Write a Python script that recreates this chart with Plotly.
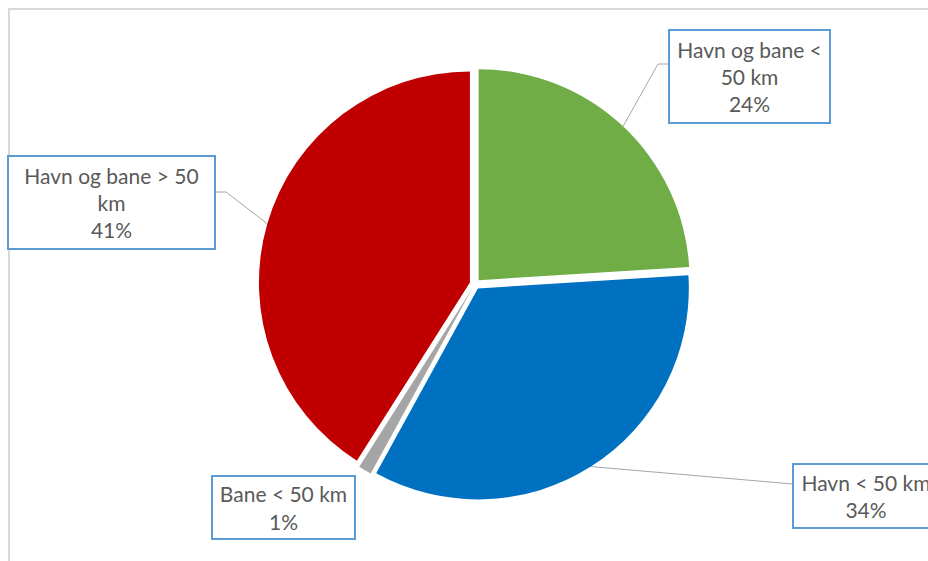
import math
import plotly.graph_objects as go

# Share of transport by mode and distance
categories = ["Havn og bane < 50 km", "Havn < 50 km", "Bane < 50 km", "Havn og bane > 50 km"]
shares = [24, 34, 1, 41]
label_lines = [
    "Havn og bane <<br>50 km",
    "Havn < 50 km",
    "Bane < 50 km",
    "Havn og bane > 50<br>km",
]
colors = ["#70AD47", "#0070C0", "#A5A5A5", "#C00000"]

W, H = 928, 561
CX, CY, R = 475, 284, 211          # pie centre and radius in pixels
PULL = 0.025                       # explode fraction

# label boxes: (x0, y0, x1, y1) in pixels, leader elbow point or None
boxes = [
    ((669, 30, 830, 123), (658, 64), (669, 64)),
    ((793, 464, 939, 528), None, (793, 484)),
    ((212, 476, 355, 539), None, None),
    ((8, 156, 215, 249), (226, 192), (215, 192)),
]

side = 2 * R * (1 + PULL)
dom_x = [(CX - side / 2) / W, (CX + side / 2) / W]
dom_y = [(H - CY - side / 2) / H, (H - CY + side / 2) / H]

fig = go.Figure()
fig.add_trace(go.Pie(
    labels=categories,
    values=shares,
    sort=False,
    direction="clockwise",
    rotation=0,
    pull=[PULL] * len(shares),
    marker=dict(colors=colors, line=dict(width=0)),
    textinfo="none",
    hoverinfo="skip",
    showlegend=False,
    domain=dict(x=dom_x, y=dom_y),
))

total = sum(shares)
start = 0.0
shapes = [dict(type="rect", xref="x", yref="y", x0=9, y0=9, x1=W + 20, y1=H + 20,
               line=dict(color="#D9D9D9", width=2), fillcolor="rgba(0,0,0,0)", layer="below")]
annotations = []
for i, v in enumerate(shares):
    frac = v / total
    mid = (start + frac / 2) * 2 * math.pi
    start += frac
    dx, dy = math.sin(mid), -math.cos(mid)
    ox, oy = CX + PULL * R * dx, CY + PULL * R * dy
    tip = (ox + R * dx, oy + R * dy)
    (x0, y0, x1, y1), elbow, end = boxes[i]
    if end is not None:
        pts = [tip] + ([elbow] if elbow else []) + [end]
        path = "M " + " L ".join(f"{px:.1f},{py:.1f}" for px, py in pts)
        shapes.append(dict(type="path", xref="x", yref="y", path=path,
                           line=dict(color="#A6A6A6", width=1), layer="above"))
    pct = f"{round(100 * frac)}%"
    annotations.append(dict(
        xref="x", yref="y", x=(x0 + x1) / 2, y=(y0 + y1) / 2,
        text=f"{label_lines[i]}<br>{pct}", showarrow=False,
        width=x1 - x0 - 2, height=y1 - y0 - 2, align="center", valign="middle",
        bgcolor="white", bordercolor="#5B9BD5", borderwidth=2, borderpad=0,
        font=dict(family="Lato, sans-serif", size=21, color="#595959"),
    ))

fig.update_layout(
    width=W, height=H,
    margin=dict(l=0, r=0, t=0, b=0),
    paper_bgcolor="white", plot_bgcolor="rgba(0,0,0,0)",
    xaxis=dict(range=[0, W], visible=False, fixedrange=True),
    yaxis=dict(range=[H, 0], visible=False, fixedrange=True),
    shapes=shapes, annotations=annotations,
    showlegend=False,
)

fig.write_html("out.html", config={"displayModeBar": False})
